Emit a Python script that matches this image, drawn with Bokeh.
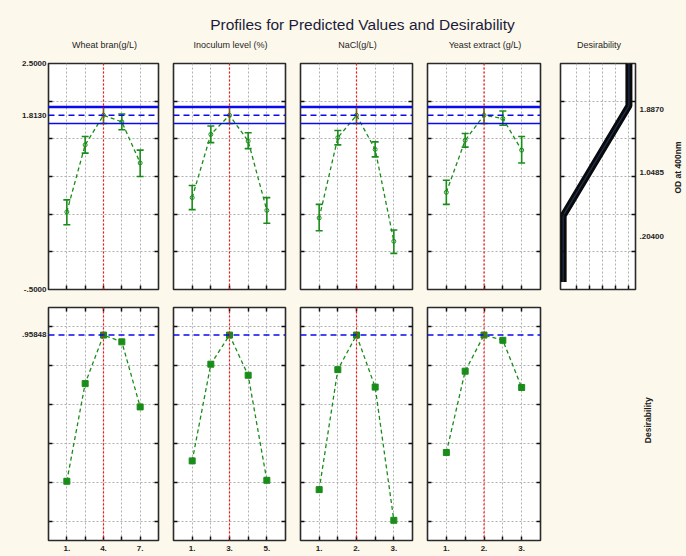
import math
from bokeh.plotting import figure
from bokeh.models import ColumnDataSource, Whisker, TeeHead, Span, FixedTicker, LinearAxis, Label, Range1d
from bokeh.layouts import column, row
from bokeh.embed import file_html
from bokeh.resources import INLINE

# ---------------- data ----------------
title_text = "Profiles for Predicted Values and Desirability"
factor_names = ["Wheat bran(g/L)", "Inoculum level (%)", "NaCl(g/L)", "Yeast extract (g/L)"]
desir_title = "Desirability"
od_axis_title = "OD at 400nm"

wheat_levels = [1, 2.5, 4, 5.5, 7]
inoc_levels = [1, 2, 3, 4, 5]
nacl_levels = [1, 1.5, 2, 2.5, 3]
yeast_levels = [1, 1.5, 2, 2.5, 3]
current_levels = [4, 3, 2, 2]

wheat_x_ticks = [1, 4, 7]
wheat_x_labels = ["1.", "4.", "7."]
inoc_x_ticks = [1, 3, 5]
inoc_x_labels = ["1.", "3.", "5."]
nacl_x_ticks = [1, 2, 3]
nacl_x_labels = ["1.", "2.", "3."]
yeast_x_ticks = [1, 2, 3]
yeast_x_labels = ["1.", "2.", "3."]

# predicted OD at 400nm (mean, upper and lower confidence limits)
wheat_od = [0.53, 1.42, 1.813, 1.725, 1.18]
wheat_up = [0.69, 1.53, 1.923, 1.83, 1.35]
wheat_lo = [0.36, 1.31, 1.703, 1.62, 1.00]
inoc_od = [0.72, 1.56, 1.813, 1.47, 0.55]
inoc_up = [0.88, 1.67, 1.923, 1.58, 0.72]
inoc_lo = [0.56, 1.45, 1.703, 1.37, 0.38]
nacl_od = [0.45, 1.516, 1.813, 1.36, 0.14]
nacl_up = [0.63, 1.61, 1.923, 1.46, 0.29]
nacl_lo = [0.28, 1.42, 1.703, 1.26, -0.02]
yeast_od = [0.79, 1.48, 1.813, 1.77, 1.35]
yeast_up = [0.95, 1.57, 1.923, 1.87, 1.53]
yeast_lo = [0.63, 1.39, 1.703, 1.68, 1.18]

# desirability profiles
wheat_d = [0.205, 0.708, 0.958, 0.923, 0.588]
inoc_d = [0.31, 0.808, 0.958, 0.751, 0.21]
nacl_d = [0.162, 0.78, 0.958, 0.69, 0.004]
yeast_d = [0.353, 0.772, 0.958, 0.931, 0.688]

pred_value = 1.813
pred_upper = 1.923
pred_lower = 1.703
od_label_ticks = [-0.5, 1.813, 2.5]
od_label_text = ["-.5000", "1.8130", "2.5000"]
overall_desirability = 0.95848
d_label_ticks = [0.95848]
d_label_text = [".95848"]

od_grid = [0, 0.5, 1, 1.5, 2]
d_grid = [0, 0.2, 0.4, 0.6, 0.8, 1.0]

# desirability function (desirability vs OD at 400nm)
dfun_d = [0, 0, 1, 1]
dfun_od = [-0.4, 0.48, 1.94, 2.5]
dfun_axis_ticks = [0.204, 1.0485, 1.887]
dfun_axis_labels = [".20400", "1.0485", "1.8870"]
dfun_grid_x = [0.2, 0.4, 0.6, 0.8, 1.0]

# ---------------- style ----------------
BG = "#fdf8ec"
GREEN = "#1a8c1a"
BLUE = "#0a0aee"
FONT = "Liberation Sans"
TXT = "#1e1e1e"

factors = [
    (wheat_levels, wheat_od, wheat_up, wheat_lo, wheat_d, wheat_x_ticks, wheat_x_labels, (-0.5, 8.5)),
    (inoc_levels, inoc_od, inoc_up, inoc_lo, inoc_d, inoc_x_ticks, inoc_x_labels, (0, 6)),
    (nacl_levels, nacl_od, nacl_up, nacl_lo, nacl_d, nacl_x_ticks, nacl_x_labels, (0.5, 3.5)),
    (yeast_levels, yeast_od, yeast_up, yeast_lo, yeast_d, yeast_x_ticks, yeast_x_labels, (0.5, 3.5)),
]
frame_w = [110, 112, 112, 113]
left_b = [48, 8, 8, 8]
right_b = [7, 7, 7, 7]
D_LEFT, D_FRAME, D_RIGHT, SIDE_W = 13, 75, 35, 16
HEADER_H = 59
TOP_BT, TOP_FH, TOP_BB = 4, 226, 9
BOT_BT, BOT_FH, BOT_BB = 9, 233, 16


def base_fig(fw, fh, xr, yr, bl, br, bt, bb):
    p = figure(frame_width=fw, frame_height=fh, x_range=Range1d(*xr), y_range=Range1d(*yr),
               min_border_left=bl, min_border_right=br, min_border_top=bt, min_border_bottom=bb,
               toolbar_location=None, output_backend="svg")
    p.background_fill_color = "white"
    p.border_fill_color = BG
    p.outline_line_color = "#2a2a2a"
    p.outline_line_width = 1.6
    for g in (p.xgrid[0], p.ygrid[0]):
        g.grid_line_color = "#b0b0b0"
        g.grid_line_dash = "2 2"
        g.grid_line_width = 1
    return p


def tick_only(ax, ticks):
    ax.ticker = FixedTicker(ticks=ticks)
    ax.major_tick_in = 4
    ax.major_tick_out = 0
    ax.minor_tick_in = 0
    ax.minor_tick_out = 0
    ax.major_tick_line_color = "#111111"
    ax.major_tick_line_width = 1.5
    ax.axis_line_color = None
    ax.major_label_text_color = None
    ax.major_label_text_font_size = "1px"
    ax.major_label_standoff = 0


def label_only(ax, ticks, labels, standoff):
    ax.ticker = FixedTicker(ticks=ticks)
    ax.major_tick_in = 0
    ax.major_tick_out = 0
    ax.minor_tick_in = 0
    ax.minor_tick_out = 0
    ax.major_tick_line_color = None
    ax.axis_line_color = None
    ax.major_label_overrides = dict(zip(ticks, labels))
    ax.major_label_text_font_size = "8px"
    ax.major_label_text_font = FONT
    ax.major_label_text_font_style = "bold"
    ax.major_label_text_color = TXT
    ax.major_label_standoff = standoff


def blank_fig(w, h, xr, yr):
    b = figure(width=w, height=h, min_border_left=0, min_border_right=0, min_border_top=0,
               min_border_bottom=0, toolbar_location=None, output_backend="svg",
               x_axis_location=None, y_axis_location=None, x_range=Range1d(*xr), y_range=Range1d(*yr))
    b.background_fill_color = BG
    b.border_fill_color = BG
    b.outline_line_color = None
    b.grid.visible = False
    b.scatter([xr[0]], [yr[0]], alpha=0)
    return b


# ---------------- header strip (main title + column titles) ----------------
hp = blank_fig(686, HEADER_H, (0, 686), (0, HEADER_H))
hp.add_layout(Label(x=362, y=HEADER_H - 24, text=title_text, text_align="center", text_baseline="middle",
                    text_font=FONT, text_font_size="15.5px", text_color="#1c1c3a"))
centers = []
xpos = 0
for i in range(4):
    centers.append(xpos + left_b[i] + frame_w[i] / 2)
    xpos += left_b[i] + frame_w[i] + right_b[i]
centers.append(xpos + D_LEFT + D_FRAME / 2)
for c, name in zip(centers, factor_names + [desir_title]):
    hp.add_layout(Label(x=c + 1, y=HEADER_H - 44, text=name, text_align="center", text_baseline="middle",
                        text_font=FONT, text_font_size="9px", text_color=TXT))

top_figs = []
bot_figs = []
for i, (lv, od, up, lo, dd, xt, xlab, xr) in enumerate(factors):
    # ---- top row: predicted values ----
    p = base_fig(frame_w[i], TOP_FH, xr, (-0.5, 2.5), left_b[i], right_b[i], TOP_BT, TOP_BB)
    p.xgrid[0].ticker = FixedTicker(ticks=lv)
    p.ygrid[0].ticker = FixedTicker(ticks=od_grid)
    tick_only(p.xaxis[0], lv)
    tick_only(p.yaxis[0], od_grid)
    if i == 0:
        lax = LinearAxis()
        label_only(lax, od_label_ticks, od_label_text, 2)
        p.add_layout(lax, "left")
    rax = LinearAxis()
    tick_only(rax, od_grid)
    p.add_layout(rax, "right")
    p.add_layout(Span(location=pred_upper, dimension="width", line_color=BLUE, line_width=2.4))
    p.add_layout(Span(location=pred_value, dimension="width", line_color=BLUE, line_width=1.5, line_dash="6 4"))
    p.add_layout(Span(location=pred_lower, dimension="width", line_color=BLUE, line_width=1.5))
    p.add_layout(Span(location=current_levels[i], dimension="height", line_color="#ff1010",
                      line_width=1.2, line_dash="2 2"))
    src = ColumnDataSource(dict(x=lv, y=od, up=up, lo=lo))
    p.line("x", "y", source=src, line_color=GREEN, line_width=1.3, line_dash="4 3")
    p.scatter("x", "y", source=src, marker="circle", size=4, fill_color=None, line_color=GREEN, line_width=1)
    p.add_layout(Whisker(base="x", upper="up", lower="lo", source=src, dimension="height",
                         line_color=GREEN, line_width=1.6,
                         upper_head=TeeHead(size=7, line_color=GREEN, line_width=1.6),
                         lower_head=TeeHead(size=7, line_color=GREEN, line_width=1.6)))
    top_figs.append(p)

    # ---- bottom row: desirability ----
    q = base_fig(frame_w[i], BOT_FH, xr, (-0.1, 1.1), left_b[i], right_b[i], BOT_BT, BOT_BB)
    q.xgrid[0].ticker = FixedTicker(ticks=lv)
    q.ygrid[0].ticker = FixedTicker(ticks=d_grid)
    tick_only(q.xaxis[0], lv)
    bax = LinearAxis()
    label_only(bax, xt, xlab, 5)
    q.add_layout(bax, "below")
    tax = LinearAxis()
    tick_only(tax, lv)
    q.add_layout(tax, "above")
    tick_only(q.yaxis[0], d_grid)
    if i == 0:
        lax = LinearAxis()
        label_only(lax, d_label_ticks, d_label_text, 2)
        q.add_layout(lax, "left")
    rax2 = LinearAxis()
    tick_only(rax2, d_grid)
    q.add_layout(rax2, "right")
    q.add_layout(Span(location=overall_desirability, dimension="width", line_color=BLUE, line_width=1.5,
                      line_dash="6 4"))
    q.add_layout(Span(location=current_levels[i], dimension="height", line_color="#ff1010",
                      line_width=1.2, line_dash="2 2"))
    dsrc = ColumnDataSource(dict(x=lv, y=dd))
    q.line("x", "y", source=dsrc, line_color=GREEN, line_width=1.3, line_dash="4 3")
    q.scatter("x", "y", source=dsrc, marker="square", size=6, fill_color=GREEN, line_color=GREEN)
    bot_figs.append(q)

# ---- desirability function panel ----
dp = base_fig(D_FRAME, TOP_FH, (-0.04, 1.1), (-0.5, 2.5), D_LEFT, D_RIGHT, TOP_BT, TOP_BB)
dp.xgrid[0].ticker = FixedTicker(ticks=dfun_grid_x)
dp.ygrid[0].ticker = FixedTicker(ticks=od_grid)
tick_only(dp.xaxis[0], dfun_grid_x)
tick_only(dp.yaxis[0], od_grid)
r1 = LinearAxis()
tick_only(r1, od_grid)
dp.add_layout(r1, "right")
r2 = LinearAxis()
label_only(r2, dfun_axis_ticks, dfun_axis_labels, 4)
dp.add_layout(r2, "right")
dp.line(dfun_d, dfun_od, line_color="#0a0a0a", line_width=7)
dp.line(dfun_d, dfun_od, line_color="#2b4f86", line_width=1.2, line_alpha=0.6)
top_figs.append(dp)

# ---- narrow strip with the response axis title ----
top_h = TOP_BT + TOP_FH + TOP_BB
sp = blank_fig(SIDE_W, top_h, (0, SIDE_W), (0, top_h))
sp.add_layout(Label(x=7.5, y=top_h - 110, text=od_axis_title, angle=math.pi / 2, text_align="center",
                    text_baseline="middle", text_font=FONT, text_font_size="8.5px",
                    text_font_style="bold", text_color=TXT))
top_figs.append(sp)

# ---- blank cell with side label ----
bot_h = BOT_BT + BOT_FH + BOT_BB
bp = blank_fig(D_LEFT + D_FRAME + D_RIGHT + SIDE_W, bot_h, (0, 1), (0, 1))
bp.add_layout(Label(x=0.725, y=0.516, text=desir_title, angle=math.pi / 2, text_align="center",
                    text_baseline="middle", text_font=FONT, text_font_size="8.5px",
                    text_font_style="bold", text_color=TXT))
bot_figs.append(bp)

layout = column(hp, row(*top_figs, spacing=0), row(*bot_figs, spacing=0), spacing=0,
                styles={"background-color": BG})
open("out.html", "w").write(file_html(layout, INLINE))
